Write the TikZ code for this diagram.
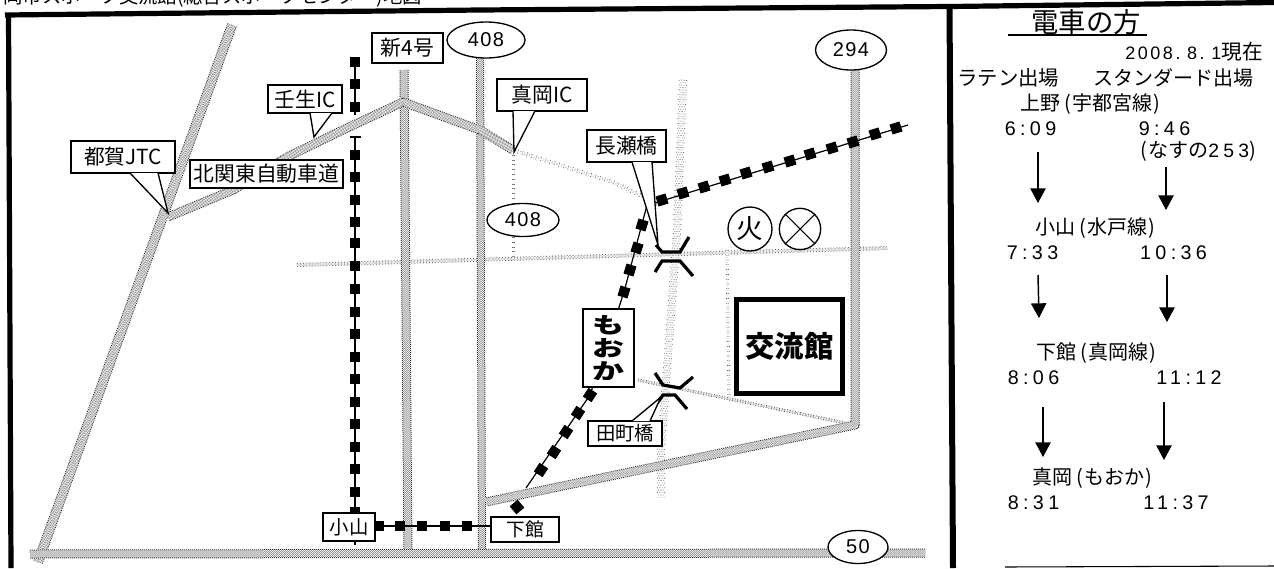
\documentclass[tikz,border=0pt]{standalone}
\usepackage{fontspec}
\setmainfont{Noto Sans CJK JP}
\newfontfamily\dig[LetterSpace=22]{Liberation Sans}
\newfontfamily\digm[LetterSpace=14]{Liberation Sans}
\newfontfamily\digb[LetterSpace=7]{Liberation Sans}
\usetikzlibrary{arrows.meta,calc,shapes.geometric}
\newcommand{\fs}[1]{\fontsize{#1}{#1}\selectfont}
\newcommand{\lp}{\hspace{3pt}(\hspace{1pt}}
\newcommand{\rp}{\hspace{1pt})}
% stippled band road: width(px), on(pt), off(pt), edge shade, inner shade, path
\newcommand{\stip}[6]{%
  \foreach \k in {0,...,4}{%
    \pgfmathsetmacro{\wd}{max(#1-2*\k,0.4)*0.75}%
    \pgfmathsetmacro{\sh}{\k==0?#4:#5}%
    \pgfmathsetmacro{\ph}{mod(\k,2)*(#2+#3)/2}%
    \draw[white,line width=\wd pt,line join=round] #6;
    \draw[draw=black!\sh,line width=\wd pt,line join=round,dash pattern=on #2pt off #3pt,dash phase=\ph pt] #6;
  }}
\newcommand{\road}[2]{\stip{#1}{0.75}{0.75}{85}{42}{#2}}
\newcommand{\faint}[2]{\stip{#1}{0.6}{3.0}{60}{40}{#2}}
\tikzset{
  x=0.75pt,y=-0.75pt,
  framel/.style={line width=3.9pt,line join=miter,line cap=butt},
  rail/.style={line width=0.9pt},
  railsq/.style={fill=black,minimum size=7.8pt,inner sep=0pt,draw=none},
  lbl/.style n args={2}{draw,fill=white,line width=1pt,inner sep=0pt,minimum width=#1*0.75pt,minimum height=#2*0.75pt,font=\fs{15.6}},
  tail/.style={draw,fill=white,line width=1pt,line join=miter},
  oval/.style n args={2}{draw,fill=white,ellipse,line width=1pt,inner sep=0pt,minimum width=#1*1.5pt,minimum height=#2*1.5pt,font=\digb\fs{15}},
  bridge/.style={line width=2.4pt,line join=miter},
  txt/.style={inner sep=0pt,font=\fs{15}},
  num/.style={inner sep=0pt,font=\dig\fs{14.8}},
  arr/.style={line width=1.1pt,-{Stealth[length=11pt,width=11.5pt,inset=0pt]}},
}
\begin{document}
\begin{tikzpicture}
\useasboundingbox (0,0) rectangle (1274,568);
\fill[white] (0,0) rectangle (1274,568);
% title
\node[anchor=base east,inner sep=0pt,font=\fs{14.5}] (title) at (422,3) {岡市スポーツ交流館(総合スポーツセンター)地図};
% faint roads
\faint{4}{(513,150) -- (613,182) -- (660,205)}
\faint{3}{(513,150) -- (513,205)}
\faint{3}{(513,237) -- (513,258)}
\faint{8}{(683,80) -- (677,233) -- (661,450) -- (661,497)}
\stip{4}{0.7}{1.5}{60}{40}{(297,265) -- (887,248)}
\faint{3}{(727,250) -- (729,398)}
\stip{3}{0.7}{1.3}{65}{45}{(638,380) -- (855,425)}
% wide roads
\road{10}{(232,25) -- (38,562)}
\road{9}{(404,70) -- (408,552)}
\road{8}{(480,58) -- (482,552)}
\road{9}{(168,217) -- (233,190) -- (287,157) -- (347,128) -- (403,102) -- (480,130) -- (513,150)}
\road{9}{(855,70) -- (855,425) -- (486,502)}
\road{9}{(30,554) -- (925,553)}
% railway
\coordinate (ra) at (355,60); \coordinate (rb) at (355,115);
\coordinate (rc) at (355,137); \coordinate (rd) at (355,545);
\draw[rail] (ra) -- (rb);
\draw[rail] (rc) -- (rd);
\draw[rail] (350,137) -- (361,137);
\foreach \y [count=\i] in {62,84,107,155,177,200,222,243,266,289,312,334,357,379,402,424,447,469,492,512}
  \node[railsq] (va\i) at (355,\y) {};
\coordinate (rh1) at (375,526); \coordinate (rh2) at (491,526);
\draw[rail] (rh1) -- (rh2);
\foreach \x [count=\i] in {379,400,422,445,467}
  \node[railsq] (ha\i) at (\x,526) {};
\coordinate (rd1) at (526,488); \coordinate (rd2) at (647,205);
\coordinate (rdm) at (590,395); \coordinate (rdn) at (624,292);
\draw[rail] (rd1) -- (rdm) -- (rdn) -- (rd2);
\foreach \x/\y [count=\i] in {541/470,554/452,566/432,578/413,590/395}
  \node[railsq,rotate=-33] (da\i) at (\x,\y) {};
\foreach \x/\y [count=\i] in {624/292,630/270,637/248,642/225}
  \node[railsq,rotate=-17] (db\i) at (\x,\y) {};
\node[railsq,rotate=40] (dia) at (517,507) {};
\coordinate (re1) at (655,203); \coordinate (re2) at (908,125);
\draw[rail] (re1) -- (re2);
\foreach \x/\y [count=\i] in {662/200,683/193,704/187,725/180,746/173,768/167,790/161,810/154,832/148,853/142,875/134,896/128}
  \node[railsq,rotate=17] (ea\i) at (\x,\y) {};
% bridges
\draw[bridge] (656,245) -- (662,252) -- (680,252) -- (689,237);
\draw[bridge] (655,272) -- (662,261) -- (680,261) -- (693,276);
\draw[bridge] (655,373) -- (663,385) -- (680,388) -- (693,377);
\draw[bridge] (658,402) -- (663,395) -- (675,395) -- (687,409);
% callouts
\node[lbl={104}{32}] (jtc) at (123,157) {都賀JTC};
\node[lbl={74}{28}] (mibu) at (305,99) {壬生IC};
\node[lbl={90}{32}] (mokaic) at (542,95) {真岡IC};
\node[lbl={79}{32}] (naga) at (626.5,146) {長瀬橋};
\node[lbl={74}{25},font=\fs{14.5}] (tama) at (625,433.5) {田町橋};
\coordinate (tjtc) at (168,213); \coordinate (tmibu) at (314,137);
\coordinate (tmoka) at (514,152); \coordinate (tnaga) at (658,245);
\coordinate (ttama) at (661,397);
\path[tail] (130,173) -- (tjtc) -- (158,173);
\path[tail] (310,113) -- (tmibu) -- (332,113);
\path[tail] (513,111) -- (tmoka) -- (535,111);
\path[tail] (632,162) -- (tnaga) -- (652,162);
\path[tail] (632,421) -- (ttama) -- (650,421);
% labels
\node[lbl={71}{30}] (shin4) at (407.5,48) {新4号};
\node[lbl={153}{28}] (kita) at (266.5,174) {北関東自動車道};
\node[lbl={52}{28},font=\fs{14.5}] (oyama) at (349,527) {小山};
\node[lbl={68}{25},font=\fs{14}] (shimo) at (525,529.5) {下館};
\node[lbl={51}{78},align=center,font=\fs{16.5}\bfseries] (moka) at (608.5,348) {\scalebox{1.45}[1]{も}\\[0.5pt]\scalebox{1.45}[1]{お}\\[0.5pt]\scalebox{1.45}[1]{か}};
\node[draw,fill=white,line width=3.6pt,inner sep=0pt,minimum width=79pt,minimum height=71pt,font=\fs{22}\bfseries] (kory) at (789.5,346.5) {交流館};
% ovals
\node[oval={39}{18}] (o408a) at (486,40) {408};
\node[oval={35.5}{20}] (o294) at (851,50) {294};
\node[oval={36}{16.5}] (o408b) at (523,220) {408};
\node[oval={30}{16.5}] (o50) at (858,547) {50};
% symbols
\node[draw,circle,line width=1pt,minimum size=33pt,inner sep=0pt,font=\fs{20}] (fire) at (750,229) {火};
\node[draw,circle,line width=1pt,minimum size=31pt,inner sep=0pt] (xring) at (800,229) {};
\draw[line width=0.8pt] (xring.45) -- (xring.225) (xring.135) -- (xring.315);
% frame
\draw[framel] (8.5,13) -- (11,568);
\draw[framel] (5,15) -- (480,10) -- (950,6.5) -- (1274,2.5);
\draw[line width=4.5pt] (949.5,5) -- (953,568);
\draw[line width=0.8pt] (1005,567) -- (1274,566);
% right panel
\node[txt,font=\fs{20.5}] (ttl) at (1086,22) {電車の方};
\draw[line width=0.9pt] (1008,35) -- (1147,35);
\node[txt,font=\fs{15.5},anchor=east] (date) at (1263,52) {{\digm\fs{13.5}2008.\hspace{5pt}8.\hspace{5pt}1}現在};
\node[txt,anchor=west,font=\fs{15.3}] (lat) at (957,78) {ラテン出場};
\node[txt,anchor=west,font=\fs{15}] (std) at (1093,78) {スタンダード出場};
\node[txt,anchor=west] (ueno) at (1020,104) {上野\lp 宇都宮線\rp};
\node[num] (t1) at (1030.5,129) {6:09};
\node[num] (t2) at (1164.5,129) {9:46};
\node[txt,anchor=west] (nasu) at (1140,151) {(\hspace{1pt}なすの{\dig\fs{14.5}253})};
\coordinate (a1s) at (1038,152); \coordinate (a1e) at (1038,203);
\coordinate (a2s) at (1166,167); \coordinate (a2e) at (1166,210);
\draw[arr] (a1s) -- (a1e);
\draw[arr] (a2s) -- (a2e);
\node[txt,anchor=west] (oy) at (1035,228) {小山\lp 水戸線\rp};
\node[num] (t3) at (1032.5,253) {7:33};
\node[num] (t4) at (1173.5,253) {10:36};
\coordinate (a3s) at (1038,275); \coordinate (a3e) at (1039,318);
\coordinate (a4s) at (1167,275); \coordinate (a4e) at (1167,322);
\draw[arr] (a3s) -- (a3e);
\draw[arr] (a4s) -- (a4e);
\node[txt,anchor=west] (sh) at (1036,353) {下館\lp 真岡線\rp};
\node[num] (t5) at (1033.5,378) {8:06};
\node[num] (t6) at (1189,378) {11:12};
\coordinate (a5s) at (1043,407); \coordinate (a5e) at (1043,457);
\coordinate (a6s) at (1164,402); \coordinate (a6e) at (1164,460);
\draw[arr] (a5s) -- (a5e);
\draw[arr] (a6s) -- (a6e);
\node[txt,anchor=west] (mk) at (1032,478) {真岡\lp もおか\rp};
\node[num] (t7) at (1033.5,503) {8:31};
\node[num] (t8) at (1176,503) {11:37};
\end{tikzpicture}
\end{document}
